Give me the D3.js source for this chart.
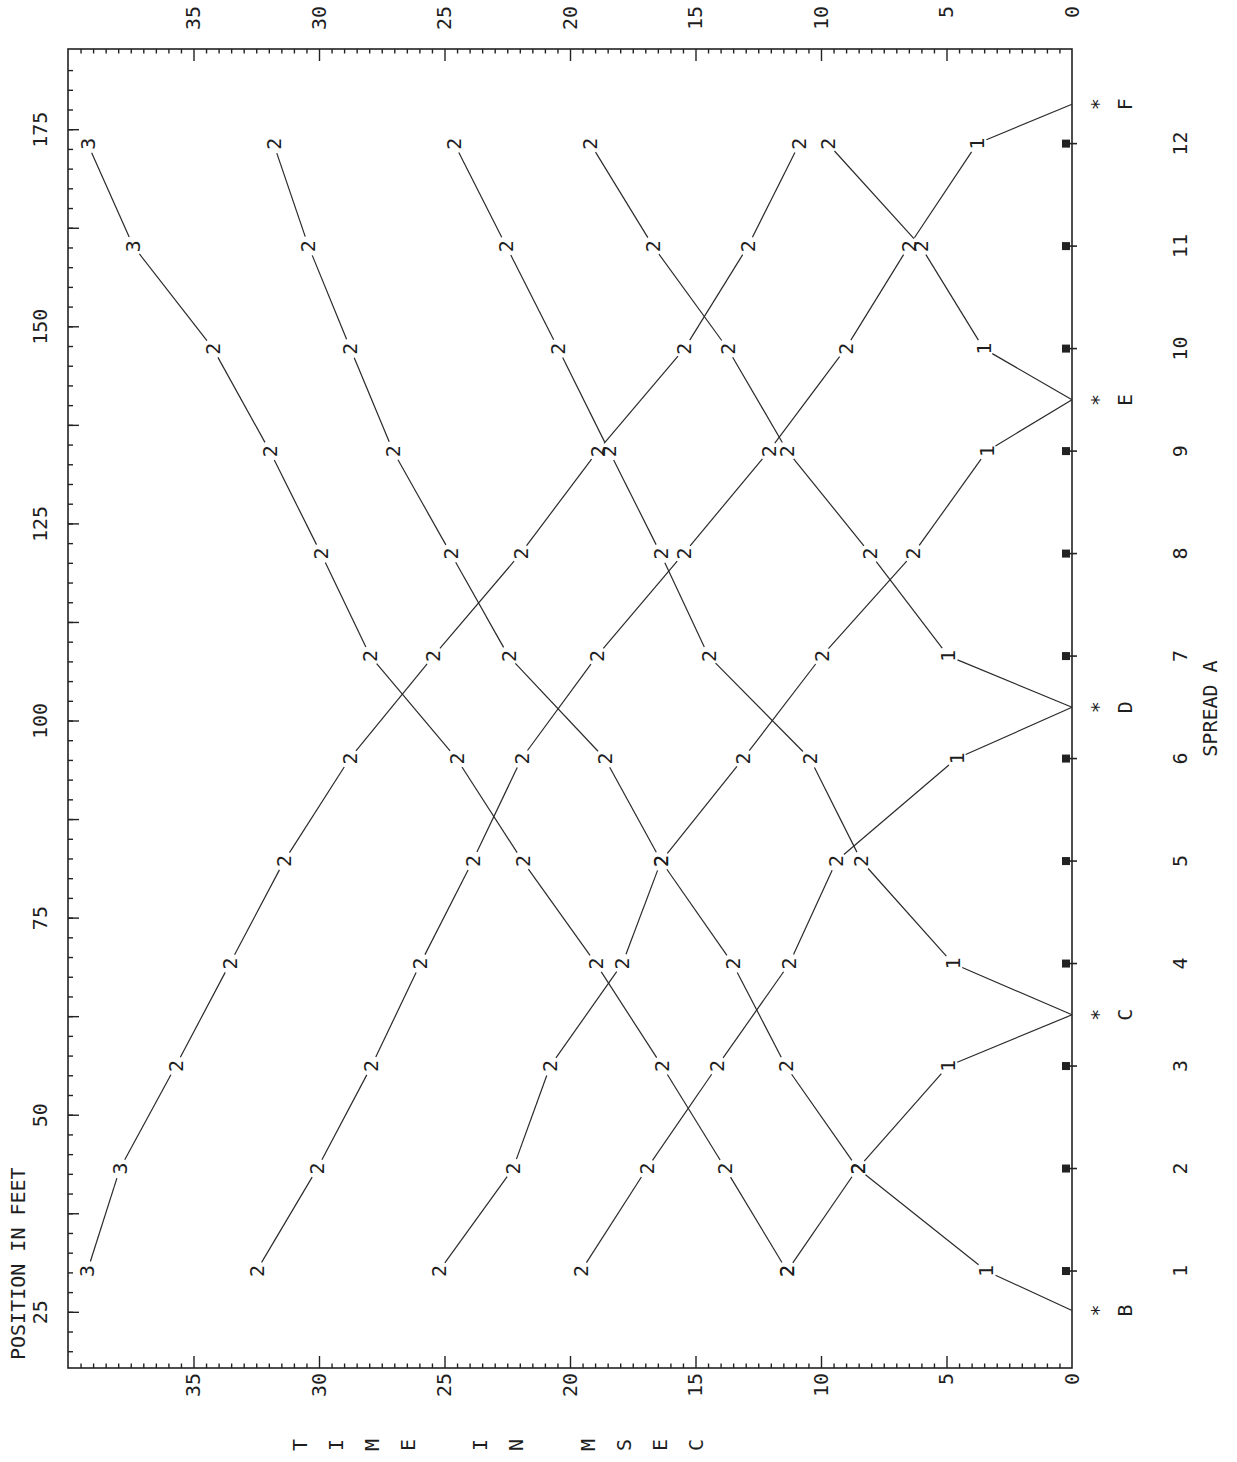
<!DOCTYPE html>
<html>
<head>
<meta charset="utf-8">
<script src="https://cdn.jsdelivr.net/npm/d3@7"></script>
<style>
  body { margin: 0; background: #fff; }
  text { font-family: "DejaVu Sans Mono", monospace; font-size: 20px; fill: #1e1e1e; }
</style>
</head>
<body>
<svg width="1237" height="1462"></svg>
<script>
// spread layout (feet)
const geoNums = [1, 2, 3, 4, 5, 6, 7, 8, 9, 10, 11, 12];
const geoPos = [30.3, 43.3, 56.3, 69.3, 82.3, 95.3, 108.3, 121.3, 134.3, 147.3, 160.3, 173.3];
const shotNames = ["B", "C", "D", "E", "F"];
const shotPos = [25.3, 62.8, 101.8, 140.8, 178.3];
const posTicks = [25, 50, 75, 100, 125, 150, 175];
const timeTicks = [0, 5, 10, 15, 20, 25, 30, 35];

// first arrivals in msec, listed outward from the shot
const bFwd = [3.41, 8.54, 11.40, 13.52, 16.37, 18.61, 22.45, 24.75, 27.05, 28.75, 30.42, 31.81]; // g1..g12
const cRev = [4.94, 8.54, 11.35];                                                               // g3..g1
const cFwd = [4.74, 8.39, 10.44, 14.48, 16.39, 18.44, 20.47, 22.54, 24.61];                     // g4..g12
const dRev = [4.60, 9.39, 11.26, 14.13, 16.94, 19.56];                                          // g6..g1
const dFwd = [4.93, 8.04, 11.34, 13.72, 16.69, 19.19];                                          // g7..g12
const eRev = [3.39, 6.32, 9.97, 13.10, 16.37, 17.91, 20.79, 22.27, 25.22];                      // g9..g1
const eFwd = [3.52, 6.03, 9.73];                                                                // g10..g12
const fRev = [3.78, 6.50, 9.02, 12.08, 15.47, 18.93, 21.93, 23.88, 25.96, 27.91, 30.07, 32.49]; // g12..g1
// off-end shots
const farFwd = [11.35, 13.81, 16.33, 18.97, 21.89, 24.52, 27.96, 29.92, 31.96, 34.22, 37.40, 39.22]; // g1..g12
const farRev = [39.23, 37.93, 35.71, 33.55, 31.39, 28.78, 25.44, 21.97, 18.90, 15.44, 12.91, 10.86]; // g1..g12
const farFwdMarks = "222222222233";
const farRevMarks = "332222222222";

const svg = d3.select("svg");
const sheetW = +svg.attr("height"); // chart is drawn sideways, then turned
const g = svg.append("g").attr("transform", `translate(0,${sheetW}) rotate(-90)`);

const x = d3.scaleLinear().domain([18, 185.3]).range([94, 1413]);
const y = d3.scaleLinear().domain([0, 40]).range([1072, 68]);

// frame
g.append("rect")
  .attr("x", x(18)).attr("y", y(40))
  .attr("width", x(185.3) - x(18)).attr("height", y(0) - y(40))
  .attr("fill", "none").attr("stroke", "#222").attr("stroke-width", 1.6);

function addAxis(axis, tx, ty) {
  const a = g.append("g").attr("transform", `translate(${tx},${ty})`).call(axis);
  a.select(".domain").remove();
  a.selectAll("line").attr("stroke", "#222").attr("stroke-width", 1.4);
  return a;
}

// position ticks along the top edge
const posMinor = d3.range(20, 185, 2.5);
const posMajor = d3.range(25, 185, 12.5);
addAxis(d3.axisBottom(x).tickValues(posMinor).tickSize(5).tickFormat(""), 0, y(40));
addAxis(d3.axisBottom(x).tickValues(posMajor).tickSize(11).tickFormat(""), 0, y(40));
addAxis(d3.axisTop(x).tickValues(posTicks).tickSize(0).tickPadding(21), 0, y(40));

// time ticks on both sides
const timeMinor = d3.range(0.5, 40, 0.5).filter(t => t % 5 !== 0);
const timeMajor = d3.range(5, 40, 5);
addAxis(d3.axisRight(y).tickValues(timeMinor).tickSize(4.5).tickFormat(""), x(18), 0);
addAxis(d3.axisRight(y).tickValues(timeMajor).tickSize(12).tickFormat(""), x(18), 0);
addAxis(d3.axisLeft(y).tickValues(timeMinor).tickSize(4.5).tickFormat(""), x(185.3), 0);
addAxis(d3.axisLeft(y).tickValues(timeMajor).tickSize(12).tickFormat(""), x(185.3), 0);
addAxis(d3.axisLeft(y).tickValues(timeTicks).tickSize(0).tickPadding(5), x(18), 0);
addAxis(d3.axisRight(y).tickValues(timeTicks).tickSize(0).tickPadding(43), x(185.3), 0)
  .selectAll("text").attr("text-anchor", "end");

// geophones
const geo = g.append("g");
geo.selectAll("rect").data(geoPos).join("rect")
  .attr("x", d => x(d) - 4).attr("y", y(0) - 10)
  .attr("width", 8).attr("height", 8).attr("fill", "#222");
geo.selectAll("line").data(geoPos).join("line")
  .attr("x1", d => x(d)).attr("x2", d => x(d))
  .attr("y1", y(0) - 2).attr("y2", y(0) + 5)
  .attr("stroke", "#222").attr("stroke-width", 1.6);
geo.selectAll("text").data(geoNums).join("text")
  .attr("x", (d, i) => x(geoPos[i])).attr("y", 1180)
  .attr("text-anchor", "middle").attr("dominant-baseline", "central")
  .text(d => d);

// shot points
const shots = g.append("g");
shots.selectAll(".star").data(shotPos).join("text").attr("class", "star")
  .attr("x", d => x(d)).attr("y", 1098)
  .attr("text-anchor", "middle").attr("dominant-baseline", "central")
  .text("*");
shots.selectAll(".name").data(shotNames).join("text").attr("class", "name")
  .attr("x", (d, i) => x(shotPos[i])).attr("y", 1125)
  .attr("text-anchor", "middle").attr("dominant-baseline", "central")
  .text(d => d);

g.append("text").attr("x", (x(18) + x(185.3)) / 2).attr("y", 1210)
  .attr("text-anchor", "middle").attr("dominant-baseline", "central")
  .text("SPREAD A");
g.append("text").attr("x", 102).attr("y", 18)
  .attr("dominant-baseline", "central")
  .text("POSITION IN FEET");
g.append("g").selectAll("text").data("TIME IN MSEC".split("")).join("text")
  .attr("x", 17).attr("y", (d, i) => 300 + i * 36)
  .attr("text-anchor", "middle").attr("dominant-baseline", "central")
  .text(d => d);

// travel-time curves
function curve(shot, geos, times, marks) {
  const pts = geos.map((n, i) => ({ p: geoPos[n - 1], t: times[i], m: marks ? marks[i] : (i === 0 ? "1" : "2") }));
  if (shot !== null) pts.unshift({ p: shotPos[shot], t: 0, m: null });
  return pts;
}
const curves = [
  curve(0, d3.range(1, 13), bFwd),
  curve(1, [3, 2, 1], cRev),
  curve(1, d3.range(4, 13), cFwd),
  curve(2, [6, 5, 4, 3, 2, 1], dRev),
  curve(2, d3.range(7, 13), dFwd),
  curve(3, [9, 8, 7, 6, 5, 4, 3, 2, 1], eRev),
  curve(3, [10, 11, 12], eFwd),
  curve(4, d3.range(12, 0, -1), fRev),
  curve(null, d3.range(1, 13), farFwd, farFwdMarks),
  curve(null, d3.range(1, 13), farRev, farRevMarks)
];

const gap = 10;
function segments(pts) {
  const out = [];
  for (let i = 1; i < pts.length; i++) {
    const a = pts[i - 1], b = pts[i];
    const ax = x(a.p), ay = y(a.t), bx = x(b.p), by = y(b.t);
    const len = Math.hypot(bx - ax, by - ay);
    const ux = (bx - ax) / len, uy = (by - ay) / len;
    const ra = a.m ? gap : 0, rb = b.m ? gap : 0;
    out.push({ x1: ax + ux * ra, y1: ay + uy * ra, x2: bx - ux * rb, y2: by - uy * rb });
  }
  return out;
}

g.append("g").selectAll("line").data(curves.flatMap(segments)).join("line")
  .attr("x1", d => d.x1).attr("y1", d => d.y1)
  .attr("x2", d => d.x2).attr("y2", d => d.y2)
  .attr("stroke", "#2a2a2a").attr("stroke-width", 1.2);

g.append("g").selectAll("text").data(curves.flat().filter(d => d.m)).join("text")
  .attr("x", d => x(d.p)).attr("y", d => y(d.t))
  .attr("text-anchor", "middle").attr("dominant-baseline", "central")
  .text(d => d.m);
</script>
</body>
</html>
